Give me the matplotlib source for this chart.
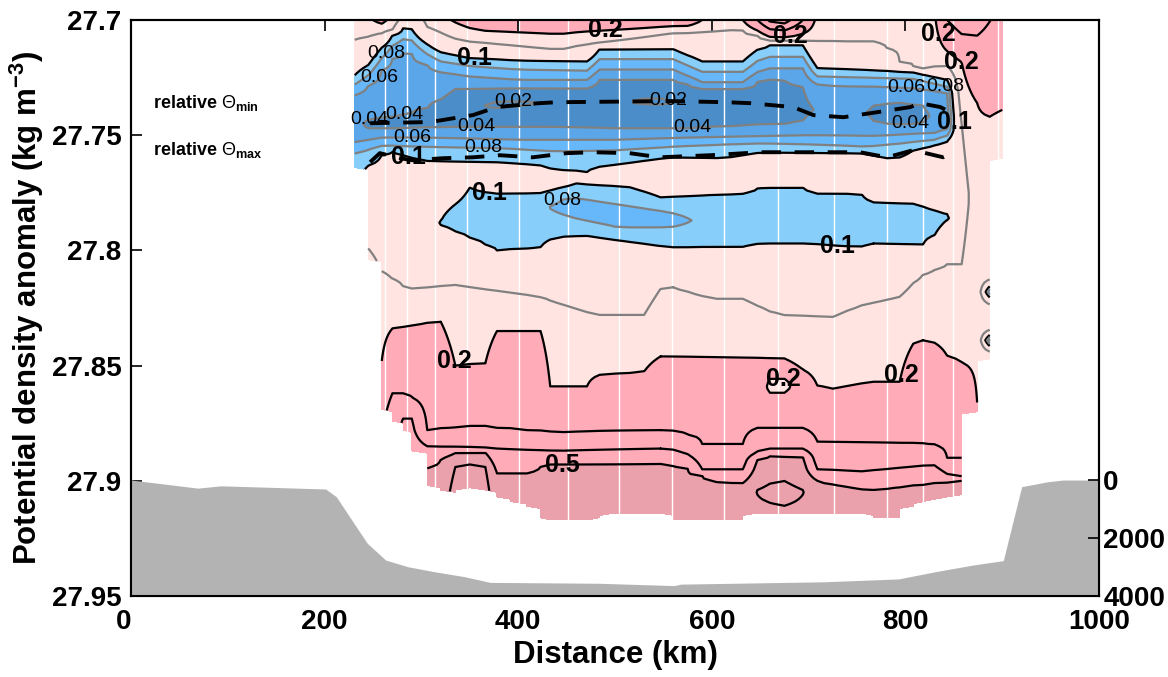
import numpy as np
import matplotlib
matplotlib.use('Agg')
import matplotlib.pyplot as plt

plt.rcParams['font.family'] = ['Liberation Sans', 'DejaVu Sans']
plt.rcParams['mathtext.fontset'] = 'custom'
plt.rcParams['mathtext.rm'] = 'Liberation Sans'
plt.rcParams['mathtext.bf'] = 'Liberation Sans:bold'
plt.rcParams['mathtext.it'] = 'Liberation Sans:italic'

# ---- stations (km) and deepest density of each profile ----
stations_km = [231, 245, 259, 270, 281, 290, 306, 320, 335, 350, 366, 378, 392, 409, 423, 433,
               447, 460, 471, 484, 500, 515, 530, 547, 560, 575, 590, 605, 620, 632, 647, 660,
               675, 694, 709, 725, 740, 755, 767, 781, 794, 808, 818, 830, 843, 858, 874, 887, 900]
station_bottom = [27.765, 27.805, 27.870, 27.875, 27.879, 27.888, 27.903, 27.905, 27.906, 27.904,
                  27.905, 27.908, 27.910, 27.912, 27.917, 27.918, 27.918, 27.918, 27.918, 27.917,
                  27.915, 27.915, 27.915, 27.915, 27.918, 27.918, 27.918, 27.918, 27.918, 27.918,
                  27.915, 27.915, 27.915, 27.915, 27.915, 27.915, 27.915, 27.915, 27.917, 27.917,
                  27.917, 27.912, 27.910, 27.909, 27.908, 27.907, 27.871, 27.848, 27.761]
cast_km = [262, 285, 314, 347, 401, 451, 504, 559, 613, 668, 726, 781, 818, 849, 896]

# value at the top of the section (27.70) and below the deepest data (27.925)
top_x = [231, 245, 259, 270, 281, 290, 306, 330, 350, 366, 440, 575, 590, 605, 620, 632, 647,
         660, 675, 694, 709, 725, 780, 818, 830, 843, 858, 900]
top_v = [0.17, 0.19, 0.22, 0.18, 0.13, 0.12, 0.16, 0.20, 0.23, 0.245, 0.245, 0.245, 0.20, 0.17,
         0.16, 0.20, 0.30, 0.42, 0.45, 0.30, 0.18, 0.16, 0.16, 0.16, 0.19, 0.30, 0.35, 0.28]
deep_x = [231, 259, 270, 290, 320, 335, 366, 378, 647, 660, 694, 858, 874, 887, 900]
deep_v = [0.2, 0.45, 0.6, 0.62, 0.58, 0.72, 0.72, 0.58, 0.55, 0.55, 0.55, 0.58, 0.4, 0.3, 0.2]

# ---- isolines: (km, density) ----
t15a_x = [231, 259, 275]
t15a_d = [27.7087, 27.7057, 27.7035]
t15b_x = [306, 340, 368, 443, 464, 520, 557, 600, 632, 660, 700, 740, 775, 794, 818, 843, 858]
t15b_d = [27.703, 27.709, 27.710, 27.713, 27.7109, 27.708, 27.7057, 27.705, 27.7043, 27.709,
          27.709, 27.7096, 27.7096, 27.7187, 27.721, 27.720, 27.745]
r20_x = [843, 852, 862, 874, 887, 900]
r20_d = [27.7135, 27.7143, 27.721, 27.736, 27.742, 27.739]

u10t_x = [231, 250, 265, 286, 300, 320, 350, 400, 471, 481, 570, 580, 639, 650, 698, 709, 808, 843, 856]
u10t_d = [27.724, 27.718, 27.708, 27.702, 27.709, 27.714, 27.7165, 27.7175, 27.718, 27.7126,
          27.7126, 27.718, 27.718, 27.711, 27.711, 27.7209, 27.7226, 27.726, 27.7335]
u08t_x = [231, 250, 265, 286, 300, 320, 350, 400, 471, 481, 570, 580, 639, 650, 698, 709, 808, 843, 852]
u08t_d = [27.728, 27.7225, 27.7125, 27.707, 27.7135, 27.718, 27.720, 27.7215, 27.722, 27.717,
          27.717, 27.7225, 27.7225, 27.716, 27.716, 27.7245, 27.7255, 27.729, 27.735]
u06t_x = [231, 250, 265, 286, 300, 320, 350, 400, 471, 481, 570, 580, 639, 650, 698, 709, 808, 843, 850]
u06t_d = [27.7325, 27.727, 27.718, 27.713, 27.718, 27.7225, 27.7245, 27.726, 27.726, 27.7215,
          27.7215, 27.727, 27.727, 27.721, 27.721, 27.728, 27.7295, 27.7315, 27.737]
u04t_x = [245, 270, 300, 319, 330, 400, 471, 481, 570, 580, 639, 650, 690, 700]
u04t_d = [27.7435, 27.742, 27.740, 27.735, 27.730, 27.7296, 27.7296, 27.726, 27.726, 27.730,
          27.730, 27.7255, 27.7265, 27.733]
u04b_x = [245, 270, 300, 320, 360, 422, 500, 580, 650, 690, 700]
u04b_d = [27.747, 27.747, 27.7465, 27.7465, 27.7465, 27.7465, 27.747, 27.747, 27.7455, 27.745, 27.742]
c04t_x = [762, 790, 826]
c04t_d = [27.7375, 27.7357, 27.7375]
c04b_x = [762, 790, 826]
c04b_d = [27.7435, 27.7457, 27.7445]
u06b_x = [231, 260, 300, 400, 500, 580, 650, 700, 760, 830, 850]
u06b_d = [27.753, 27.751, 27.751, 27.752, 27.752, 27.751, 27.7505, 27.750, 27.7505, 27.749, 27.747]
u08b_x = [231, 260, 300, 378, 440, 500, 580, 650, 700, 760, 830, 852]
u08b_d = [27.758, 27.7545, 27.755, 27.7555, 27.757, 27.7565, 27.7545, 27.7535, 27.754, 27.755,
          27.752, 27.749]
u10b_x = [231, 244, 265, 285, 300, 378, 422, 436, 471, 481, 557, 613, 650, 753, 781, 797, 808, 836, 856]
u10b_d = [27.768, 27.7635, 27.7565, 27.7587, 27.761, 27.7617, 27.763, 27.765, 27.766, 27.764,
          27.7596, 27.760, 27.7574, 27.7578, 27.760, 27.7596, 27.7565, 27.7535, 27.7509]

m10t_x = [320, 335, 345, 371, 422, 460, 518, 546, 632, 650, 694, 709, 753, 767, 808, 836, 847, 856]
m10t_d = [27.787, 27.780, 27.772, 27.7752, 27.7752, 27.7709, 27.7726, 27.777, 27.7752, 27.7726,
          27.7726, 27.7752, 27.7752, 27.7791, 27.7796, 27.7835, 27.785, 27.7865]
m08t_x = [440, 455, 502, 557, 575]
m08t_d = [27.7785, 27.777, 27.780, 27.7835, 27.786]
m08b_x = [440, 455, 502, 557, 575]
m08b_d = [27.7835, 27.7857, 27.790, 27.790, 27.788]
m10b_x = [320, 337, 378, 422, 436, 470, 557, 632, 650, 694, 753, 767, 825, 836, 847, 856]
m10b_d = [27.789, 27.7922, 27.800, 27.7991, 27.7943, 27.7935, 27.7987, 27.7987, 27.797, 27.797,
          27.7987, 27.797, 27.7978, 27.7883, 27.786, 27.788]

l15_x = [259, 285, 335, 420, 480, 530, 540, 560, 600, 632, 667, 735, 742, 795, 815, 843, 858]
l15_d = [27.809, 27.817, 27.815, 27.820, 27.828, 27.828, 27.817, 27.816, 27.821, 27.821, 27.828,
         27.829, 27.825, 27.820, 27.811, 27.806, 27.806]
l20_x = [259, 268, 285, 310, 320, 330, 335, 366, 371, 378, 423, 428, 433, 471, 484, 529, 543, 547,
         691, 698, 725, 767, 802, 805, 818, 828, 839, 860, 867, 874]
l20_d = [27.848, 27.834, 27.833, 27.831, 27.831, 27.840, 27.850, 27.849, 27.838, 27.835, 27.835,
         27.840, 27.859, 27.859, 27.854, 27.853, 27.847, 27.846, 27.847, 27.858, 27.860, 27.857,
         27.857, 27.841, 27.839, 27.839, 27.845, 27.849, 27.856, 27.866]
l30_x = [262, 288, 306, 360, 378, 440, 547, 572, 588, 632, 647, 698, 709, 829, 843, 858]
l30_d = [27.862, 27.862, 27.878, 27.876, 27.877, 27.879, 27.878, 27.879, 27.884, 27.884, 27.877,
         27.877, 27.883, 27.884, 27.890, 27.890]
l40_x = [281, 286, 306, 378, 440, 547, 572, 588, 632, 650, 694, 709, 753, 829, 843, 858]
l40_d = [27.873, 27.870, 27.885, 27.886, 27.887, 27.886, 27.887, 27.895, 27.895, 27.886, 27.886,
         27.895, 27.896, 27.893, 27.897, 27.898]
l50_x = [306, 330, 368, 378, 409, 430, 457, 547, 575, 601, 632, 650, 694, 709, 764, 849, 858]
l50_d = [27.8943, 27.888, 27.8878, 27.8965, 27.8965, 27.8926, 27.8926, 27.8922, 27.8943, 27.900,
         27.901, 27.889, 27.8896, 27.900, 27.904, 27.900, 27.900]
a60_x = [335, 350, 366]
a60_d = [27.894, 27.8926, 27.894]
b60t_x = [647, 670, 694]
b60t_d = [27.904, 27.899, 27.904]
b60b_x = [647, 670, 694]
b60b_d = [27.906, 27.912, 27.906]

# ---- local extremes: (km, density, value) ----
core_x = [231, 245, 265, 290, 315, 340, 380, 410, 450, 490, 540, 570, 620, 680, 700, 715, 740,
          755, 767, 790, 818, 830, 843, 856]
core_d = [27.744, 27.7455, 27.7445, 27.7435, 27.742, 27.739, 27.7365, 27.736, 27.7365, 27.736,
          27.735, 27.736, 27.737, 27.737, 27.738, 27.740, 27.741, 27.7405, 27.740, 27.740, 27.741,
          27.742, 27.742, 27.742]
core_v = [0.045, 0.035, 0.028, 0.017, 0.019, 0.024, 0.016, 0.018, 0.024, 0.023, 0.016, 0.021,
          0.027, 0.030, 0.035, 0.046, 0.047, 0.043, 0.035, 0.032, 0.035, 0.043, 0.050, 0.070]
bb_x = [320, 345, 380, 440, 470, 520, 560, 640, 700, 760, 810, 856]
bb_d = [27.771, 27.7665, 27.768, 27.769, 27.768, 27.766, 27.768, 27.7665, 27.765, 27.7665, 27.768, 27.766]
bb_v = [0.115, 0.11, 0.115, 0.12, 0.12, 0.12, 0.125, 0.125, 0.125, 0.125, 0.125, 0.125]
mb_x = [320, 337, 378, 426, 440, 455, 502, 557, 575, 590, 632, 700, 767, 825, 847, 856]
mb_d = [27.788, 27.785, 27.787, 27.7815, 27.781, 27.781, 27.785, 27.7868, 27.787, 27.787, 27.786,
        27.785, 27.788, 27.789, 27.7855, 27.787]
mb_v = [0.097, 0.092, 0.09, 0.083, 0.075, 0.07, 0.07, 0.07, 0.077, 0.088, 0.09, 0.09, 0.09, 0.09,
        0.095, 0.098]
mid_x = [858, 874, 887, 900]
mid_d = [27.775, 27.780, 27.780, 27.750]
mid_v = [0.13, 0.17, 0.17, 0.17]
lpa_x = [655, 675, 690]
lpa_d = [27.852, 27.852, 27.852]
lpa_v = [0.215, 0.215, 0.215]
lpb_x = [655, 675, 690]
lpb_d = [27.8595, 27.8595, 27.8595]
lpb_v = [0.185, 0.185, 0.185]
bcen_x = [647, 670, 694]
bcen_d = [27.905, 27.9055, 27.905]
bcen_v = [0.605, 0.64, 0.605]
# small cold blobs at the eastern edge profile
edge_km = 887
edge_d = [27.812, 27.818, 27.824, 27.834, 27.839, 27.845]
edge_v = [0.16, 0.06, 0.16, 0.16, 0.05, 0.17]

# Theta min / max dashed lines
thmin_x = [247, 309, 353, 378, 422, 440, 557, 616, 639, 684, 705, 736, 771, 805, 815, 836, 846]
thmin_d = [27.7448, 27.7443, 27.7413, 27.7378, 27.7361, 27.7357, 27.7352, 27.7357, 27.7361, 27.7378,
           27.7413, 27.7422, 27.7400, 27.7378, 27.7361, 27.7378, 27.7400]
thmax_x = [247, 257, 278, 291, 322, 353, 381, 415, 450, 477, 515, 546, 598, 650, 701, 753, 781,
           808, 839, 849]
thmax_d = [27.7617, 27.7578, 27.7600, 27.7609, 27.7600, 27.7596, 27.7587, 27.7596, 27.7578, 27.7574,
           27.7578, 27.7596, 27.7587, 27.7574, 27.7574, 27.7574, 27.7596, 27.7565, 27.7596, 27.7578]

# bathymetry (km, m)
bathy_x = [0, 69, 93, 201, 212, 228, 244, 263, 286, 313, 344, 371, 483, 561, 568, 715, 793, 831,
           870, 901, 920, 947, 963, 1000]
bathy_z = [0, 280, 200, 310, 575, 1380, 2180, 2760, 2990, 3160, 3330, 3530, 3560, 3640, 3590, 3510,
           3410, 3160, 2930, 2780, 230, 60, 0, 0]

ISOLINES = [(t15a_x, t15a_d, 0.15), (t15b_x, t15b_d, 0.15), (r20_x, r20_d, 0.2),
            (u10t_x, u10t_d, 0.1), (u08t_x, u08t_d, 0.08), (u06t_x, u06t_d, 0.06),
            (u04t_x, u04t_d, 0.04), (u04b_x, u04b_d, 0.04), (c04t_x, c04t_d, 0.04),
            (c04b_x, c04b_d, 0.04), (u06b_x, u06b_d, 0.06), (u08b_x, u08b_d, 0.08),
            (u10b_x, u10b_d, 0.1), (m10t_x, m10t_d, 0.1), (m08t_x, m08t_d, 0.08),
            (m08b_x, m08b_d, 0.08), (m10b_x, m10b_d, 0.1), (l15_x, l15_d, 0.15),
            (l20_x, l20_d, 0.2), (l30_x, l30_d, 0.3), (l40_x, l40_d, 0.4), (l50_x, l50_d, 0.5),
            (a60_x, a60_d, 0.6), (b60t_x, b60t_d, 0.6), (b60b_x, b60b_d, 0.6)]
EXTREMES = [(core_x, core_d, core_v), (bb_x, bb_d, bb_v), (mb_x, mb_d, mb_v), (mid_x, mid_d, mid_v),
            (lpa_x, lpa_d, lpa_v), (lpb_x, lpb_d, lpb_v), (bcen_x, bcen_d, bcen_v)]


def profile(xk, dens):
    """build one station profile from the isolines crossing it"""
    knots = [(27.70, np.interp(xk, top_x, top_v)), (27.925, np.interp(xk, deep_x, deep_v))]
    for lx, ld, val in ISOLINES:
        if lx[0] <= xk <= lx[-1]:
            knots.append((np.interp(xk, lx, ld), val))
    for ex, ed, ev in EXTREMES:
        if ex[0] <= xk <= ex[-1]:
            knots.append((np.interp(xk, ex, ed), np.interp(xk, ex, ev)))
    if xk == edge_km:
        knots += list(zip(edge_d, edge_v))
    knots.sort()
    d, v = zip(*knots)
    return np.interp(dens, d, v)


dens = np.arange(27.700, 27.9205, 0.001)
Z = np.array([profile(x, dens) for x in stations_km]).T
Z = np.ma.masked_where(dens[:, None] > np.array(station_bottom)[None, :], Z)

fig = plt.figure(figsize=(11.68, 6.77), dpi=100)
ax = fig.add_axes([0.1122, 0.1196, 0.8288, 0.8509])

fill_levels = [0, 0.04, 0.06, 0.08, 0.1, 0.2, 0.5, 1.0]
fill_colors = ['#4b8dc8', '#5ba6e8', '#66b8fb', '#87cefa', '#ffe4e1', '#ffabb8', '#eba1ab']
ax.contourf(stations_km, dens, Z, levels=fill_levels, colors=fill_colors, corner_mask=True)
for c in cast_km:
    ax.axvline(c, color='white', lw=1.0, zorder=1.5)
ax.contour(stations_km, dens, Z, levels=[0.1, 0.2, 0.3, 0.4, 0.5, 0.6], colors='k',
           linewidths=1.6, corner_mask=True)
ax.contour(stations_km, dens, Z, levels=[0.02, 0.04, 0.06, 0.08, 0.15], colors='#808080',
           linewidths=1.6, corner_mask=True)

ax.plot(thmin_x, thmin_d, color='k', lw=2.8, dashes=(5, 3.5), zorder=4)
ax.plot(thmax_x, thmax_d, color='k', lw=2.8, dashes=(5, 3.5), zorder=4)

# contour labels (invisible copies of the labelled levels)
lab_k = ax.contour(stations_km, dens, Z, levels=[0.1, 0.2, 0.5], colors='none')
lab_g = ax.contour(stations_km, dens, Z, levels=[0.02, 0.04, 0.06, 0.08], colors='none')
black_pos = [(490, 27.7043), (681, 27.705), (842, 27.7045), (858, 27.718), (355, 27.7174),
             (288, 27.7557), (856, 27.7443), (371, 27.773), (730, 27.799), (335, 27.848),
             (674, 27.8545), (800, 27.855), (446, 27.8926)]
gray_pos = [(259, 27.711), (262, 27.7274), (245, 27.7404), (283, 27.7422), (290, 27.75),
            (357, 27.7426), (395, 27.7357), (555, 27.7352), (364, 27.7565), (580, 27.7448),
            (805, 27.742), (801, 27.729), (841, 27.7295), (446, 27.7787)]
tk = lab_k.clabel(manual=black_pos, inline=False, fontsize=18, fmt='%g', colors='k')
for t in tk:
    t.set_rotation(0)
    t.set_fontweight('bold')
    t.set_zorder(6)
tg = lab_g.clabel(manual=gray_pos, inline=False, fontsize=14, fmt='%g', colors='k')
for t in tg:
    t.set_rotation(0)
    t.set_zorder(6)

ax.text(0.023, 0.856, r'relative $\Theta_{\mathbf{min}}$', transform=ax.transAxes, fontsize=13,
        fontweight='bold', va='center')
ax.text(0.023, 0.774, r'relative $\Theta_{\mathbf{max}}$', transform=ax.transAxes, fontsize=13,
        fontweight='bold', va='center')

ax.set_xlim(0, 1000)
ax.set_ylim(27.95, 27.70)
ax.set_xticks([0, 200, 400, 600, 800, 1000])
ax.set_xticklabels(['0', '200', '400', '600', '800', '1000'], fontsize=20, fontweight='bold')
ax.get_xticklabels()[0].set_ha('right')
ax.set_yticks([27.7, 27.75, 27.8, 27.85, 27.9, 27.95])
ax.set_yticklabels(['27.7', '27.75', '27.8', '27.85', '27.9', '27.95'], fontsize=20, fontweight='bold')
ax.tick_params(direction='in', length=8, width=1.2, top=True, right=False)
ax.tick_params(axis='x', pad=9)
ax.tick_params(axis='y', pad=7)
ax.set_xlabel('Distance (km)', fontsize=22.5, fontweight='bold', labelpad=4)
ax.set_ylabel(r'Potential density anomaly (kg m$^{\mathbf{-3}}$)', fontsize=22.5, fontweight='bold',
              labelpad=4)
for s in ax.spines.values():
    s.set_linewidth(1.5)

ax2 = ax.twinx()
ax2.fill_between(bathy_x, bathy_z, 4000, color='#b3b3b3', lw=0)
ax2.set_xlim(0, 1000)
ax2.set_ylim(4000, -15862)
ax2.set_yticks([0, 2000, 4000])
ax2.set_yticklabels(['0', '2000', '4000'], fontsize=20, fontweight='bold')
ax2.tick_params(direction='in', length=8, width=1.2, pad=3)
for s in ax2.spines.values():
    s.set_linewidth(1.5)

fig.savefig('out.png', dpi=100)
